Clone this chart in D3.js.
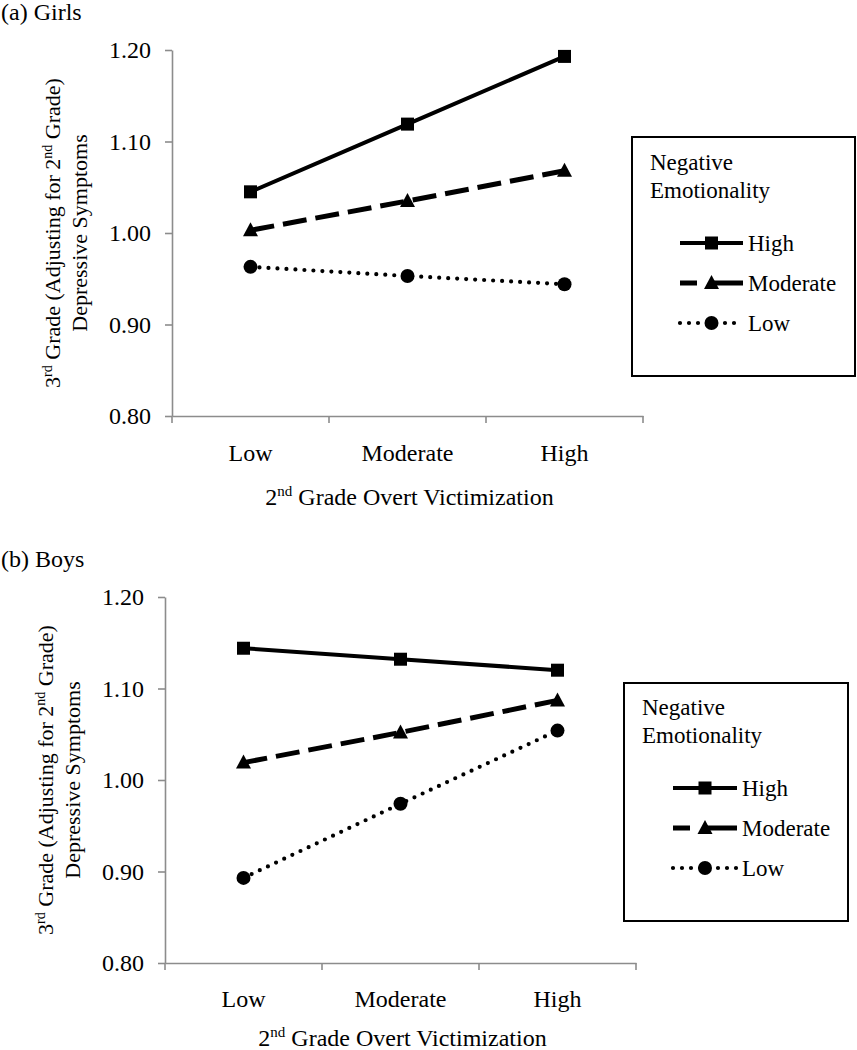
<!DOCTYPE html>
<html><head><meta charset="utf-8">
<script src="https://cdn.jsdelivr.net/npm/d3@7"></script>
<style>
body{margin:0;background:#fff;}
svg{display:block;}
svg text{font-family:"Liberation Serif","DejaVu Serif",serif;}
</style></head>
<body>
<svg id="chart" width="857" height="1050"></svg>
<script>
const categories = ["Low", "Moderate", "High"];
const seriesNames = ["High", "Moderate", "Low"];
const yTicks = [0.80, 0.90, 1.00, 1.10, 1.20];
const girlsHigh = [1.045, 1.119, 1.193];
const girlsModerate = [1.003, 1.035, 1.068];
const girlsLow = [0.963, 0.953, 0.944];
const boysHigh = [1.144, 1.132, 1.120];
const boysModerate = [1.019, 1.052, 1.087];
const boysLow = [0.893, 0.974, 1.054];
const legendTitle = ["Negative", "Emotionality"];
const xTitle = "Grade Overt Victimization";

const FONT = '"Liberation Serif","DejaVu Serif",serif';
const svg = d3.select("#chart");
const styles = {
  High: {dash: null, width: 4, marker: "square"},
  Moderate: {dash: "24,9", width: 5, marker: "triangle"},
  Low: {dash: "0,9", width: 4.2, marker: "circle", cap: "round"}
};
const AXIS = "#8c8c8c";

function marker(g, type, x, y) {
  if (type === "square") {
    g.append("rect").attr("x", x - 6.5).attr("y", y - 6.5).attr("width", 13).attr("height", 13).attr("fill", "#000");
  } else if (type === "triangle") {
    g.append("path").attr("d", `M${x},${y-8}L${x+7.5},${y+6}L${x-7.5},${y+6}Z`).attr("fill", "#000");
  } else {
    g.append("circle").attr("cx", x).attr("cy", y).attr("r", 7).attr("fill", "#000");
  }
}

function panel(cfg) {
  const g = svg.append("g").attr("font-family", FONT);
  const x = d3.scaleBand().domain(categories).range([cfg.left, cfg.right]).padding(0);
  const y = d3.scaleLinear().domain([0.8, 1.2]).range([cfg.bottom, cfg.top]);

  g.append("text").attr("x", 1).attr("y", cfg.titleY).attr("font-size", 24).text(cfg.title);

  const ya = g.append("g").attr("transform", `translate(${cfg.left},0)`)
    .call(d3.axisLeft(y).tickValues(yTicks).tickFormat(d3.format(".2f")).tickSize(7).tickSizeOuter(0).tickPadding(14));
  ya.attr("font-family", FONT);
  ya.select(".domain").attr("stroke", AXIS).attr("stroke-width", 1.6);
  ya.selectAll(".tick line").attr("stroke", AXIS).attr("stroke-width", 1.6);
  ya.selectAll(".tick text").attr("font-size", 24).attr("fill", "#000");

  const xa = g.append("g").attr("transform", `translate(0,${cfg.bottom})`)
    .call(d3.axisBottom(x).tickSize(0).tickSizeOuter(0).tickPadding(cfg.catPad));
  xa.attr("font-family", FONT);
  xa.select(".domain").attr("stroke", AXIS).attr("stroke-width", 1.6);
  xa.selectAll(".tick text").attr("font-size", 24).attr("fill", "#000");
  const bounds = categories.map(c => x(c)).concat([x.range()[1]]);
  xa.selectAll(".bt").data(bounds).join("line").attr("class", "bt")
    .attr("x1", d => d).attr("x2", d => d).attr("y1", 0).attr("y2", 7)
    .attr("stroke", AXIS).attr("stroke-width", 1.6);

  const xt = g.append("text").attr("x", (cfg.left + cfg.right) / 2 + 2).attr("y", cfg.bottom + cfg.xtOff)
    .attr("text-anchor", "middle").attr("font-size", 24);
  xt.append("tspan").text("2");
  xt.append("tspan").attr("font-size", 15).attr("dy", -9).text("nd");
  xt.append("tspan").attr("dy", 9).text(" " + xTitle);

  const cy = (cfg.top + cfg.bottom) / 2;
  const yt = g.append("g").attr("transform", `translate(${cfg.left - 112},${cy}) rotate(-90)`);
  const l1 = yt.append("text").attr("text-anchor", "middle").attr("font-size", 22).attr("y", 0);
  l1.append("tspan").text("3");
  l1.append("tspan").attr("font-size", 14).attr("dy", -8).text("rd");
  l1.append("tspan").attr("dy", 8).text(" Grade (Adjusting for 2");
  l1.append("tspan").attr("font-size", 14).attr("dy", -8).text("nd");
  l1.append("tspan").attr("dy", 8).text(" Grade)");
  yt.append("text").attr("text-anchor", "middle").attr("font-size", 22).attr("y", 27).text("Depressive Symptoms");

  const xc = c => x(c) + x.bandwidth() / 2;
  const line = d3.line().x(d => xc(d.c)).y(d => y(d.v));
  seriesNames.forEach((s, i) => {
    const vals = cfg.data[i];
    const pts = categories.map((c, j) => ({c, v: vals[j]}));
    const st = styles[s];
    g.append("path").datum(pts).attr("d", line).attr("fill", "none").attr("stroke", "#000")
      .attr("stroke-width", st.width).attr("stroke-dasharray", st.dash)
      .attr("stroke-linecap", st.cap || "butt");
    pts.forEach(p => marker(g, st.marker, xc(p.c), y(p.v)));
  });

  const L = cfg.legend;
  const lg = g.append("g");
  lg.append("rect").attr("x", L.x).attr("y", L.y).attr("width", L.w).attr("height", L.h)
    .attr("fill", "#fff").attr("stroke", "#000").attr("stroke-width", 2);
  legendTitle.forEach((t, i) => lg.append("text").attr("x", L.tx).attr("y", L.ty + i * 28)
    .attr("font-size", 23).text(t));
  seriesNames.forEach((s, i) => {
    const st = styles[s];
    const ry = L.ry + i * 40;
    lg.append("line").attr("x1", L.lx1).attr("x2", L.lx2).attr("y1", ry).attr("y2", ry)
      .attr("stroke", "#000").attr("stroke-width", st.width)
      .attr("stroke-dasharray", s === "Moderate" ? "17,16,100" : st.dash)
      .attr("stroke-linecap", st.cap || "butt");
    marker(lg, st.marker, (L.lx1 + L.lx2) / 2, ry);
    lg.append("text").attr("x", L.lx2 + 5).attr("y", ry + 8).attr("font-size", 23).text(s);
  });
}

panel({title: "(a) Girls", titleY: 20, left: 172, right: 643, top: 50, bottom: 416, xtOff: 89, catPad: 28,
  data: [girlsHigh, girlsModerate, girlsLow],
  legend: {x: 632, y: 137, w: 223, h: 239, tx: 650, ty: 170, ry: 243, lx1: 680, lx2: 743}});
panel({title: "(b) Boys", titleY: 567, left: 165, right: 636, top: 597, bottom: 963, xtOff: 83, catPad: 27,
  data: [boysHigh, boysModerate, boysLow],
  legend: {x: 624, y: 683, w: 224, h: 238, tx: 642, ty: 715, ry: 788, lx1: 673, lx2: 737}});
</script>
</body></html>
